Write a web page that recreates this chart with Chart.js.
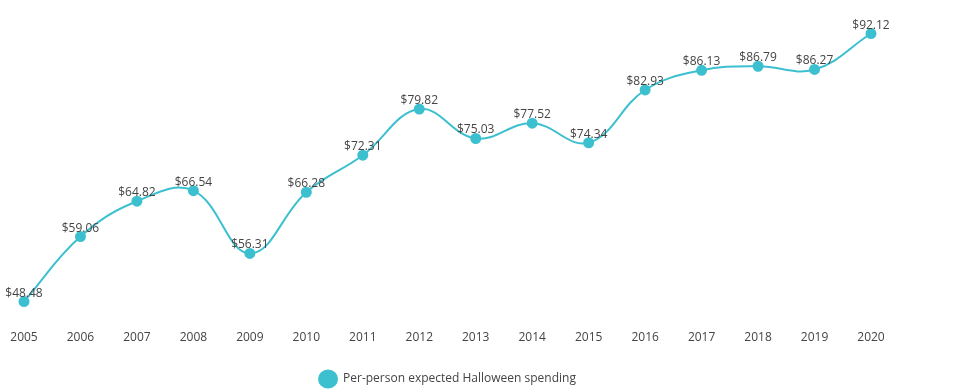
<!DOCTYPE html>
<html lang="en">
<head>
<meta charset="UTF-8">
<title>Per-person expected Halloween spending</title>
<script src="https://cdn.jsdelivr.net/npm/chart.js"></script>
<style>
  html, body { margin: 0; padding: 0; background: #fff; }
  #wrap { width: 958px; height: 392px; }
</style>
</head>
<body>
<div id="wrap"><canvas id="chart"></canvas></div>
<script>
const years = ['2005', '2006', '2007', '2008', '2009', '2010', '2011', '2012',
               '2013', '2014', '2015', '2016', '2017', '2018', '2019', '2020'];
const spending = [48.48, 59.06, 64.82, 66.54, 56.31, 66.28, 72.31, 79.82,
                  75.03, 77.52, 74.34, 82.93, 86.13, 86.79, 86.27, 92.12];

const teal = '#3cc0d0';
const fontFamily = '"Open Sans", "Noto Sans", sans-serif';

// подписи значений над точками
const valueLabels = {
  id: 'valueLabels',
  afterDatasetsDraw(chart) {
    const ctx = chart.ctx;
    const meta = chart.getDatasetMeta(0);
    ctx.save();
    ctx.font = '12px ' + fontFamily;
    ctx.fillStyle = '#444';
    ctx.textAlign = 'center';
    ctx.textBaseline = 'alphabetic';
    meta.data.forEach((pt, i) => {
      ctx.fillText('$' + spending[i].toFixed(2), pt.x, pt.y - 5);
    });
    ctx.restore();
  }
};

new Chart(document.getElementById('chart'), {
  type: 'line',
  data: {
    labels: years,
    datasets: [{
      label: 'Per-person expected Halloween spending',
      data: spending,
      borderColor: teal,
      backgroundColor: teal,
      pointBackgroundColor: teal,
      pointBorderColor: teal,
      borderWidth: 2,
      pointRadius: 4.5,
      tension: 0.4,
      fill: false
    }]
  },
  options: {
    responsive: true,
    maintainAspectRatio: false,
    animation: false,
    layout: { padding: { left: 24, right: 87, top: 10, bottom: -3 } },
    plugins: {
      legend: {
        position: 'bottom',
        labels: {
          usePointStyle: true,
          pointStyle: 'circle',
          pointStyleWidth: 18,
          color: '#444',
          padding: 20,
          font: { family: fontFamily, size: 12 }
        }
      },
      tooltip: { enabled: false }
    },
    scales: {
      x: {
        offset: false,
        grid: { display: false },
        border: { display: false },
        ticks: { color: '#444', padding: 8, font: { family: fontFamily, size: 12 } }
      },
      y: {
        display: false,
        min: 46.36,
        max: 95.95
      }
    }
  },
  plugins: [valueLabels]
});
</script>
</body>
</html>
